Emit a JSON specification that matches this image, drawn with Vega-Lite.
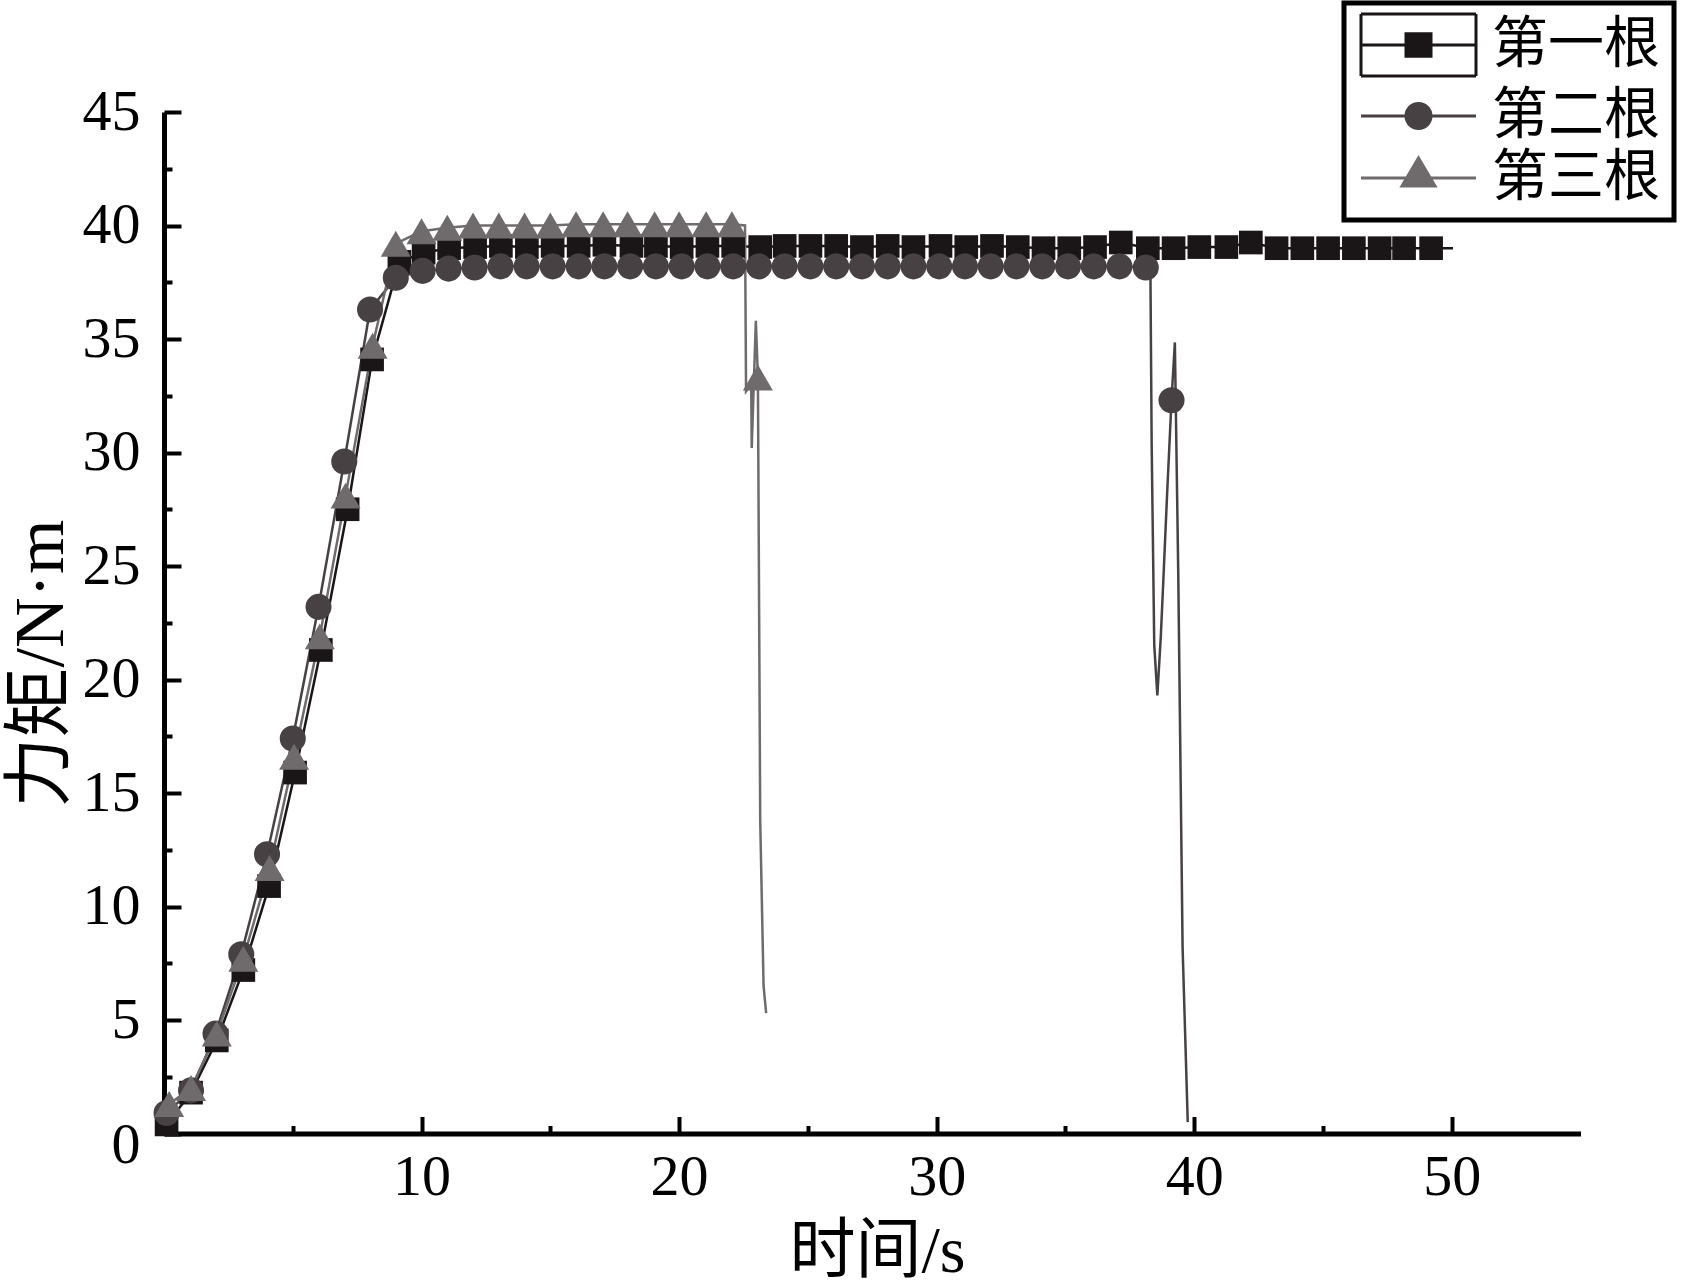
{
  "$schema": "https://vega.github.io/schema/vega-lite/v6.json",
  "width": 1416.5,
  "height": 1021.5,
  "autosize": {"type": "none"},
  "padding": {"left": 164, "top": 112, "right": 107.5, "bottom": 154.5},
  "background": "white",
  "config": {"view": {"stroke": null}, "font": "Liberation Serif", "legend": {"strokeWidth": 5}},
  "data": {"values": [
    {"s":"第一根","t":0.1,"v":0.4,"k":"m"},
    {"s":"第一根","t":1.05,"v":1.8,"k":"m"},
    {"s":"第一根","t":2.05,"v":4.1,"k":"m"},
    {"s":"第一根","t":3.08,"v":7.2,"k":"m"},
    {"s":"第一根","t":4.08,"v":10.9,"k":"m"},
    {"s":"第一根","t":5.09,"v":15.9,"k":"m"},
    {"s":"第一根","t":6.09,"v":21.3,"k":"m"},
    {"s":"第一根","t":7.13,"v":27.5,"k":"m"},
    {"s":"第一根","t":8.08,"v":34.1,"k":"m"},
    {"s":"第一根","t":9.14,"v":38.4,"k":"m"},
    {"s":"第一根","t":10.08,"v":38.8,"k":"m"},
    {"s":"第一根","t":11.07,"v":39.0,"k":"m"},
    {"s":"第一根","t":12.08,"v":39.05,"k":"m"},
    {"s":"第一根","t":13.08,"v":39.1,"k":"m"},
    {"s":"第一根","t":14.09,"v":39.05,"k":"m"},
    {"s":"第一根","t":15.09,"v":39.1,"k":"m"},
    {"s":"第一根","t":16.1,"v":39.1,"k":"m"},
    {"s":"第一根","t":17.1,"v":39.15,"k":"m"},
    {"s":"第一根","t":18.15,"v":39.1,"k":"m"},
    {"s":"第一根","t":19.1,"v":39.1,"k":"m"},
    {"s":"第一根","t":20.1,"v":39.05,"k":"m"},
    {"s":"第一根","t":21.1,"v":39.1,"k":"m"},
    {"s":"第一根","t":22.1,"v":39.1,"k":"m"},
    {"s":"第一根","t":23.15,"v":39.05,"k":"m"},
    {"s":"第一根","t":24.1,"v":39.1,"k":"m"},
    {"s":"第一根","t":25.1,"v":39.1,"k":"m"},
    {"s":"第一根","t":26.1,"v":39.1,"k":"m"},
    {"s":"第一根","t":27.1,"v":39.05,"k":"m"},
    {"s":"第一根","t":28.1,"v":39.1,"k":"m"},
    {"s":"第一根","t":29.1,"v":39.05,"k":"m"},
    {"s":"第一根","t":30.15,"v":39.1,"k":"m"},
    {"s":"第一根","t":31.15,"v":39.05,"k":"m"},
    {"s":"第一根","t":32.15,"v":39.1,"k":"m"},
    {"s":"第一根","t":33.15,"v":39.05,"k":"m"},
    {"s":"第一根","t":34.15,"v":39.0,"k":"m"},
    {"s":"第一根","t":35.15,"v":39.0,"k":"m"},
    {"s":"第一根","t":36.15,"v":39.05,"k":"m"},
    {"s":"第一根","t":37.15,"v":39.25,"k":"m"},
    {"s":"第一根","t":38.2,"v":39.0,"k":"m"},
    {"s":"第一根","t":39.2,"v":39.0,"k":"m"},
    {"s":"第一根","t":40.2,"v":39.05,"k":"m"},
    {"s":"第一根","t":41.25,"v":39.05,"k":"m"},
    {"s":"第一根","t":42.2,"v":39.25,"k":"m"},
    {"s":"第一根","t":43.2,"v":39.0,"k":"m"},
    {"s":"第一根","t":44.2,"v":39.0,"k":"m"},
    {"s":"第一根","t":45.2,"v":39.0,"k":"m"},
    {"s":"第一根","t":46.2,"v":39.0,"k":"m"},
    {"s":"第一根","t":47.2,"v":39.0,"k":"m"},
    {"s":"第一根","t":48.15,"v":39.0,"k":"m"},
    {"s":"第一根","t":49.2,"v":39.0,"k":"m"},
    {"s":"第一根","t":50.05,"v":39.0,"k":"l"},
    {"s":"第二根","t":0.1,"v":0.9,"k":"m"},
    {"s":"第二根","t":1.05,"v":1.9,"k":"m"},
    {"s":"第二根","t":2.0,"v":4.4,"k":"m"},
    {"s":"第二根","t":3.0,"v":7.9,"k":"m"},
    {"s":"第二根","t":4.0,"v":12.3,"k":"m"},
    {"s":"第二根","t":5.0,"v":17.4,"k":"m"},
    {"s":"第二根","t":6.0,"v":23.2,"k":"m"},
    {"s":"第二根","t":7.0,"v":29.6,"k":"m"},
    {"s":"第二根","t":8.0,"v":36.3,"k":"m"},
    {"s":"第二根","t":9.0,"v":37.7,"k":"m"},
    {"s":"第二根","t":10.04,"v":38.0,"k":"m"},
    {"s":"第二根","t":11.05,"v":38.1,"k":"m"},
    {"s":"第二根","t":12.06,"v":38.15,"k":"m"},
    {"s":"第二根","t":13.07,"v":38.2,"k":"m"},
    {"s":"第二根","t":14.08,"v":38.2,"k":"m"},
    {"s":"第二根","t":15.09,"v":38.2,"k":"m"},
    {"s":"第二根","t":16.1,"v":38.2,"k":"m"},
    {"s":"第二根","t":17.1,"v":38.2,"k":"m"},
    {"s":"第二根","t":18.1,"v":38.2,"k":"m"},
    {"s":"第二根","t":19.1,"v":38.2,"k":"m"},
    {"s":"第二根","t":20.1,"v":38.2,"k":"m"},
    {"s":"第二根","t":21.1,"v":38.2,"k":"m"},
    {"s":"第二根","t":22.1,"v":38.2,"k":"m"},
    {"s":"第二根","t":23.1,"v":38.2,"k":"m"},
    {"s":"第二根","t":24.1,"v":38.2,"k":"m"},
    {"s":"第二根","t":25.1,"v":38.2,"k":"m"},
    {"s":"第二根","t":26.1,"v":38.2,"k":"m"},
    {"s":"第二根","t":27.1,"v":38.2,"k":"m"},
    {"s":"第二根","t":28.1,"v":38.2,"k":"m"},
    {"s":"第二根","t":29.1,"v":38.2,"k":"m"},
    {"s":"第二根","t":30.1,"v":38.2,"k":"m"},
    {"s":"第二根","t":31.1,"v":38.2,"k":"m"},
    {"s":"第二根","t":32.1,"v":38.2,"k":"m"},
    {"s":"第二根","t":33.1,"v":38.2,"k":"m"},
    {"s":"第二根","t":34.1,"v":38.2,"k":"m"},
    {"s":"第二根","t":35.1,"v":38.2,"k":"m"},
    {"s":"第二根","t":36.1,"v":38.2,"k":"m"},
    {"s":"第二根","t":37.1,"v":38.2,"k":"m"},
    {"s":"第二根","t":38.12,"v":38.15,"k":"m"},
    {"s":"第二根","t":38.3,"v":38.1,"k":"l"},
    {"s":"第二根","t":38.35,"v":30.3,"k":"l"},
    {"s":"第二根","t":38.45,"v":21.5,"k":"l"},
    {"s":"第二根","t":38.57,"v":19.3,"k":"l"},
    {"s":"第二根","t":38.7,"v":21.8,"k":"l"},
    {"s":"第二根","t":38.78,"v":23.8,"k":"l"},
    {"s":"第二根","t":38.95,"v":28.2,"k":"l"},
    {"s":"第二根","t":39.12,"v":32.3,"k":"m"},
    {"s":"第二根","t":39.25,"v":34.85,"k":"l"},
    {"s":"第二根","t":39.38,"v":24.8,"k":"l"},
    {"s":"第二根","t":39.55,"v":8.2,"k":"l"},
    {"s":"第二根","t":39.75,"v":0.5,"k":"l"},
    {"s":"第三根","t":0.2,"v":1.3,"k":"m"},
    {"s":"第三根","t":1.05,"v":2.0,"k":"m"},
    {"s":"第三根","t":2.05,"v":4.4,"k":"m"},
    {"s":"第三根","t":3.08,"v":7.7,"k":"m"},
    {"s":"第三根","t":4.1,"v":11.7,"k":"m"},
    {"s":"第三根","t":5.05,"v":16.6,"k":"m"},
    {"s":"第三根","t":6.05,"v":21.9,"k":"m"},
    {"s":"第三根","t":7.05,"v":28.1,"k":"m"},
    {"s":"第三根","t":8.1,"v":34.7,"k":"m"},
    {"s":"第三根","t":9.0,"v":39.2,"k":"m"},
    {"s":"第三根","t":10.0,"v":39.75,"k":"m"},
    {"s":"第三根","t":11.0,"v":39.9,"k":"m"},
    {"s":"第三根","t":12.0,"v":40.0,"k":"m"},
    {"s":"第三根","t":13.0,"v":40.0,"k":"m"},
    {"s":"第三根","t":14.0,"v":40.0,"k":"m"},
    {"s":"第三根","t":15.0,"v":40.0,"k":"m"},
    {"s":"第三根","t":16.0,"v":40.05,"k":"m"},
    {"s":"第三根","t":17.05,"v":40.05,"k":"m"},
    {"s":"第三根","t":18.0,"v":40.05,"k":"m"},
    {"s":"第三根","t":19.05,"v":40.05,"k":"m"},
    {"s":"第三根","t":20.0,"v":40.05,"k":"m"},
    {"s":"第三根","t":21.05,"v":40.05,"k":"m"},
    {"s":"第三根","t":22.05,"v":40.05,"k":"m"},
    {"s":"第三根","t":22.56,"v":40.0,"k":"l"},
    {"s":"第三根","t":22.6,"v":32.7,"k":"l"},
    {"s":"第三根","t":22.8,"v":33.0,"k":"l"},
    {"s":"第三根","t":22.82,"v":30.2,"k":"l"},
    {"s":"第三根","t":22.98,"v":35.8,"k":"l"},
    {"s":"第三根","t":23.06,"v":33.3,"k":"m"},
    {"s":"第三根","t":23.15,"v":13.8,"k":"l"},
    {"s":"第三根","t":23.28,"v":6.5,"k":"l"},
    {"s":"第三根","t":23.38,"v":5.3,"k":"l"}
  ]},
  "encoding": {
    "x": {
      "field": "t", "type": "quantitative",
      "scale": {"domain": [0, 55], "nice": false, "zero": false},
      "axis": {
        "values": [5, 10, 15, 20, 25, 30, 35, 40, 45, 50],
        "labelExpr": "datum.value % 10 === 0 ? datum.label : ''",
        "tickSize": {"condition": {"test": "datum.value % 10 === 0", "value": -17}, "value": -8},
        "tickWidth": 4, "tickColor": "black",
        "domainColor": "black", "domainWidth": 5,
        "grid": false,
        "labelFont": "Liberation Serif", "labelFontSize": 58, "labelColor": "black",
        "labelPadding": 32, "labelBaseline": "top",
        "labelFlush": false, "labelOverlap": false, "labelBound": false,
        "title": "时间/s",
        "titleFont": "Liberation Serif, Noto Sans CJK SC",
        "titleFontSize": 66, "titleFontWeight": "normal", "titleColor": "black",
        "titleX": 713, "titleY": 117.5, "titleAlign": "center", "titleBaseline": "middle", "titleAngle": 0
      }
    },
    "y": {
      "field": "v", "type": "quantitative",
      "scale": {"domain": [0, 45], "nice": false, "zero": false},
      "axis": {
        "values": [0, 2.5, 5, 7.5, 10, 12.5, 15, 17.5, 20, 22.5, 25, 27.5, 30, 32.5, 35, 37.5, 40, 42.5, 45],
        "labelExpr": "datum.value % 5 === 0 ? datum.label : ''",
        "tickSize": {"condition": {"test": "datum.value % 5 === 0", "value": -17}, "value": -8},
        "tickWidth": 4, "tickColor": "black",
        "domainColor": "black", "domainWidth": 5,
        "grid": false,
        "labelFont": "Liberation Serif", "labelFontSize": 58, "labelColor": "black",
        "labelPadding": 41,
        "labelOffset": {"condition": {"test": "datum.value === 0", "value": 12}, "value": 0},
        "labelFlush": false, "labelOverlap": false, "labelBound": false,
        "title": "力矩/N·m",
        "titleFont": "Liberation Serif, Noto Sans CJK SC",
        "titleFontSize": 70, "titleFontWeight": "normal", "titleColor": "black",
        "titleX": -123, "titleY": 551, "titleAlign": "center", "titleBaseline": "middle", "titleAngle": -90
      }
    }
  },
  "layer": [
    {
      "mark": {"type": "line", "strokeWidth": 2.5, "clip": false},
      "encoding": {
        "color": {
          "field": "s", "type": "nominal",
          "scale": {"domain": ["第三根", "第二根", "第一根"], "range": ["#6f6a6b", "#474143", "#1a1517"]},
          "legend": null
        }
      }
    },
    {
      "transform": [{"filter": "datum.k === 'm' && datum.s === '第一根'"}],
      "mark": {"type": "point", "shape": "square", "filled": true, "color": "#1a1517", "size": 560, "strokeWidth": 0, "opacity": 1, "clip": false}
    },
    {
      "transform": [{"filter": "datum.k === 'm' && datum.s === '第二根'"}],
      "mark": {"type": "point", "shape": "circle", "filled": true, "color": "#474143", "size": 680, "strokeWidth": 0, "opacity": 1, "clip": false}
    },
    {
      "transform": [{"filter": "datum.k === 'm' && datum.s === '第三根'"}],
      "mark": {"type": "point", "shape": "triangle-up", "filled": true, "color": "#6f6a6b", "size": 900, "strokeWidth": 0, "opacity": 1, "clip": false}
    },
    {
      "transform": [{"filter": "false"}],
      "mark": {"type": "point", "filled": true, "opacity": 1},
      "encoding": {
        "fill": {
          "field": "s", "type": "nominal",
          "scale": {"domain": ["第一根", "第二根", "第三根"], "range": ["#1a1517", "#474143", "#6f6a6b"]},
          "legend": {
            "orient": "none", "legendX": 1180, "legendY": -109, "title": null,
            "strokeColor": "black", "padding": 14, "fillColor": "white",
            "labelFont": "Noto Sans CJK SC", "labelFontSize": 56, "labelColor": "black",
            "labelOffset": 78, "labelBaseline": "middle", "labelLimit": 0,
            "symbolSize": 2500, "symbolStrokeWidth": 3, "rowPadding": 6
          }
        },
        "stroke": {
          "field": "s", "type": "nominal",
          "scale": {"domain": ["第一根", "第二根", "第三根"], "range": ["#1a1517", "#474143", "#6f6a6b"]}
        },
        "shape": {
          "field": "s", "type": "nominal",
          "scale": {
            "domain": ["第一根", "第二根", "第三根"],
            "range": [
              "M-1,-1.24H3.6M3.6,-1.24V1.24M3.6,1.24H-1M-1,1.24V-1.24M-1,0H3.6M0.8,-0.45H1.8V0.45H0.8Z",
              "M-1,0H3.6M0.8,0A0.5,0.5,0,1,0,1.8,0A0.5,0.5,0,1,0,0.8,0Z",
              "M-1,0H3.6M1.3,-0.8L1.96,0.32L0.64,0.32Z"
            ]
          }
        }
      }
    }
  ]
}
